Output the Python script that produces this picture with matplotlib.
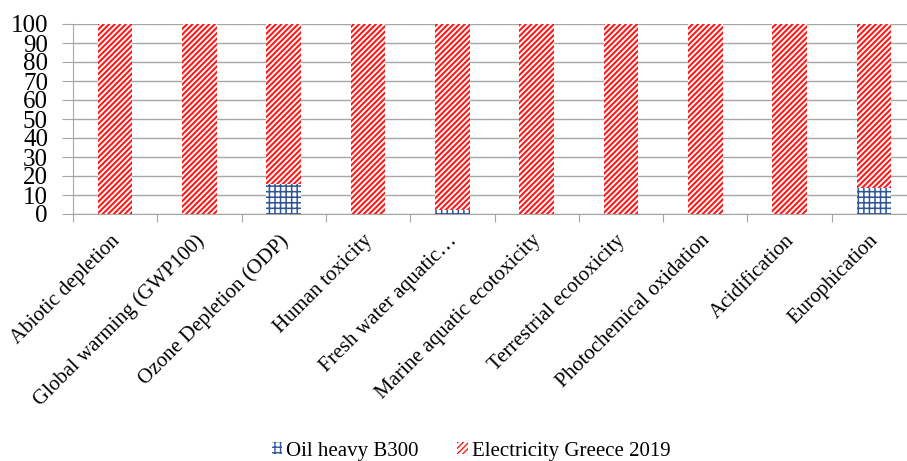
import matplotlib
matplotlib.use('Agg')
import matplotlib.pyplot as plt
import numpy as np

categories = ['Abiotic depletion', 'Global warming (GWP100)', 'Ozone Depletion (ODP)',
              'Human toxicity', 'Fresh water aquatic\u2026', 'Marine aquatic ecotoxicity',
              'Terrestrial ecotoxicity', 'Photochemical oxidation', 'Acidification',
              'Europhication']
oil = [0, 0, 16, 0, 2, 0, 0, 0, 0, 13.5]
electricity = [100 - v for v in oil]
yticks = list(range(0, 101, 10))

plt.rcParams['font.family'] = ['Liberation Serif', 'DejaVu Serif']

fig = plt.figure(figsize=(9.07, 4.61), dpi=100)
ax = fig.add_axes([73 / 907, 247 / 461, 843 / 907, 190 / 461])

x = np.arange(len(categories))
w = 0.41
with plt.rc_context({'hatch.linewidth': 1.1}):
    ax.bar(x, oil, w, color='white', edgecolor='#2f5597', hatch='+++', linewidth=0,
           label='Oil heavy B300', zorder=3)
with plt.rc_context({'hatch.linewidth': 1.5}):
    ax.bar(x, electricity, w, bottom=oil, color='white', edgecolor='#ff1a1a',
           hatch='//////', linewidth=0, label='Electricity Greece 2019', zorder=3)

ax.set_xlim(-0.5, len(categories) - 0.5)
ax.set_ylim(0, 100)
ax.set_yticks(yticks)
ax.set_yticklabels([str(t) for t in yticks], fontsize=18)
ax.yaxis.grid(True, color='#a6a6a6', linewidth=1)
ax.tick_params(axis='y', length=8, color='#a6a6a6', pad=10)
for lbl in ax.get_yticklabels():
    lbl.set_verticalalignment('center_baseline')

ax.set_xticks(np.arange(len(categories) + 1) - 0.5)
ax.set_xticklabels([])
ax.tick_params(axis='x', length=6, color='#a6a6a6', direction='out')
for i, c in enumerate(categories):
    ax.text(i - 0.06, -9, c, rotation=45, ha='right', va='top', rotation_mode='anchor',
            fontsize=15, transform=ax.transData)

for s in ['top', 'right']:
    ax.spines[s].set_visible(False)
for s in ['left', 'bottom']:
    ax.spines[s].set_color('#a6a6a6')

fig.legend(loc='center', bbox_to_anchor=(471 / 907, 1 - 451 / 461), ncol=2, frameon=False,
           fontsize=15, handlelength=0.5, handleheight=0.5, handletextpad=0.2,
           columnspacing=1.85)

fig.savefig('out.png', dpi=100)
